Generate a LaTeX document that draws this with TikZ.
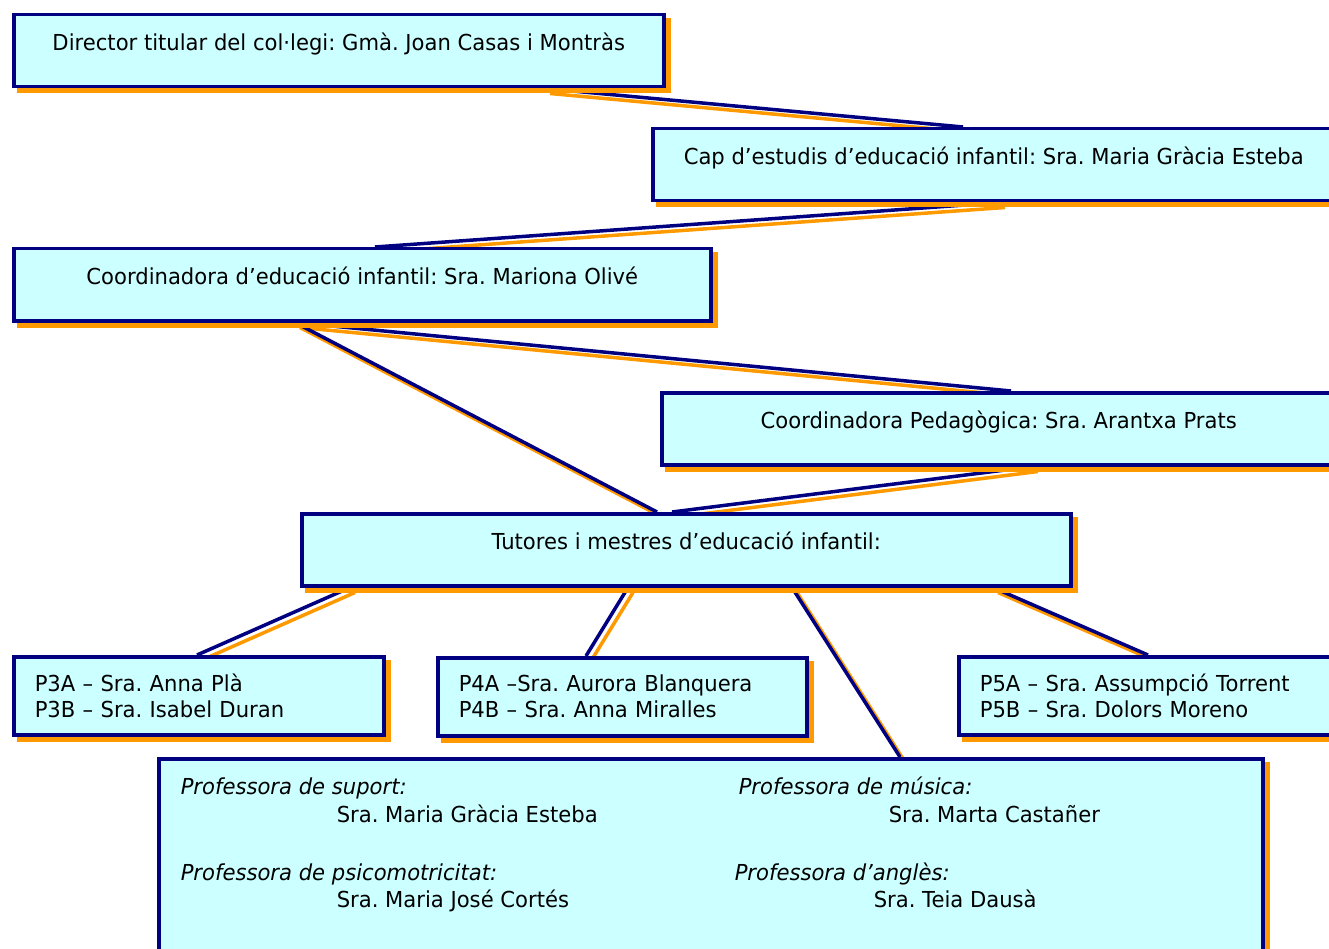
\documentclass[tikz,border=0pt]{standalone}
\usepackage{fontspec}
\setmainfont[FakeStretch=0.96]{DejaVu Sans}
\usepackage{tikz}
\usetikzlibrary{positioning, shadows, backgrounds}
\definecolor{navy}{HTML}{000080}
\definecolor{pale}{HTML}{CCFFFF}
\definecolor{shade}{HTML}{FF9900}
\frenchspacing

\begin{document}
\begin{tikzpicture}[x=1pt, y=-1pt, line width=3.5pt,
        every node/.style={font=\fontsize{22}{26}\selectfont},
        box/.style={draw=navy, fill=pale, anchor=north west, inner sep=0pt,
            drop shadow={shadow xshift=5pt, shadow yshift=-5pt, fill=shade, draw=shade, opacity=1}},
        head/.style={box, text height=36pt, text depth=36pt},
        pair/.style={box, align=left, inner xsep=21pt, minimum height=78pt},
        role/.style={anchor=base west, inner sep=0pt, font=\fontsize{22}{26}\selectfont\itshape},
        who/.style={anchor=base west, inner sep=0pt},
        link/.style={draw=navy, line width=3.5pt},
        linkshade/.style={draw=shade, line width=3.5pt, transform canvas={shift={(5pt,-5pt)}}}]
        \useasboundingbox (0,0) rectangle (1329,949);

        \node[head, minimum width=650pt] (dir) at (12,13) {Director titular del col·legi: Gmà. Joan Casas i Montràs};
        \node[head, minimum width=682pt] (cap) at (651,127) {Cap d’estudis d’educació infantil: Sra. Maria Gràcia Esteba};
        \node[head, minimum width=697pt] (coord) at (12,247) {Coordinadora d’educació infantil: Sra. Mariona Olivé};
        \node[head, minimum width=674pt] (ped) at (660,391) {Coordinadora Pedagògica: Sra. Arantxa Prats};
        \node[head, minimum width=769pt] (tut) at (300,512) {Tutores i mestres d’educació infantil:};

        \node[pair, text width=328pt] (p3) at (12,655) {P3A – Sra. Anna Plà\\P3B – Sra. Isabel Duran};
        \node[pair, text width=327pt] (p4) at (436,656) {P4A –Sra. Aurora Blanquera\\P4B – Sra. Anna Miralles};
        \node[pair, text width=378pt] (p5) at (957,655) {P5A – Sra. Assumpció Torrent\\P5B – Sra. Dolors Moreno};

        \node[box, minimum width=1104pt, minimum height=230pt] (staff) at (157,757) {};
        \node[role] (supt) at (179,794) {Professora de suport:};
        \node[who] (supn) at (335,822) {Sra. Maria Gràcia Esteba};
        \node[role] (psit) at (179,880) {Professora de psicomotricitat:};
        \node[who] (psin) at (335,907) {Sra. Maria José Cortés};
        \node[role] (must) at (737,794) {Professora de música:};
        \node[who] (musn) at (887,822) {Sra. Marta Castañer};
        \node[role] (angt) at (733,880) {Professora d’anglès:};
        \node[who] (angn) at (872,907) {Sra. Teia Dausà};

        % connectors under the boxes
        \begin{scope}[on background layer]
        \draw[linkshade] ([xshift=533pt]dir.south west) -- ([xshift=312pt]cap.north west);
        \draw[linkshade] ([xshift=349pt]cap.south west) -- ([xshift=363pt]coord.north west);
        \draw[linkshade] ([xshift=283pt]coord.south west) -- ([xshift=351pt]ped.north west);
        \draw[linkshade] ([xshift=283pt]coord.south west) -- ([xshift=357pt]tut.north west);
        \draw[linkshade] ([xshift=373pt]ped.south west) -- ([xshift=372pt]tut.north west);
        \draw[linkshade] ([xshift=50pt]tut.south west) -- ([xshift=185pt]p3.north west);
        \draw[linkshade] ([xshift=328pt]tut.south west) -- ([xshift=150pt]p4.north west);
        \draw[linkshade] ([xshift=492pt]tut.south west) -- ([xshift=743pt]staff.north west);
        \draw[linkshade] ([xshift=693pt]tut.south west) -- ([xshift=191pt]p5.north west);

        \draw[link] ([xshift=533pt]dir.south west) -- ([xshift=312pt]cap.north west);
        \draw[link] ([xshift=349pt]cap.south west) -- ([xshift=363pt]coord.north west);
        \draw[link] ([xshift=283pt]coord.south west) -- ([xshift=351pt]ped.north west);
        \draw[link] ([xshift=283pt]coord.south west) -- ([xshift=357pt]tut.north west);
        \draw[link] ([xshift=373pt]ped.south west) -- ([xshift=372pt]tut.north west);
        \draw[link] ([xshift=50pt]tut.south west) -- ([xshift=185pt]p3.north west);
        \draw[link] ([xshift=328pt]tut.south west) -- ([xshift=150pt]p4.north west);
        \draw[link] ([xshift=492pt]tut.south west) -- ([xshift=743pt]staff.north west);
        \draw[link] ([xshift=693pt]tut.south west) -- ([xshift=191pt]p5.north west);
        \end{scope}
\end{tikzpicture}
\end{document}
